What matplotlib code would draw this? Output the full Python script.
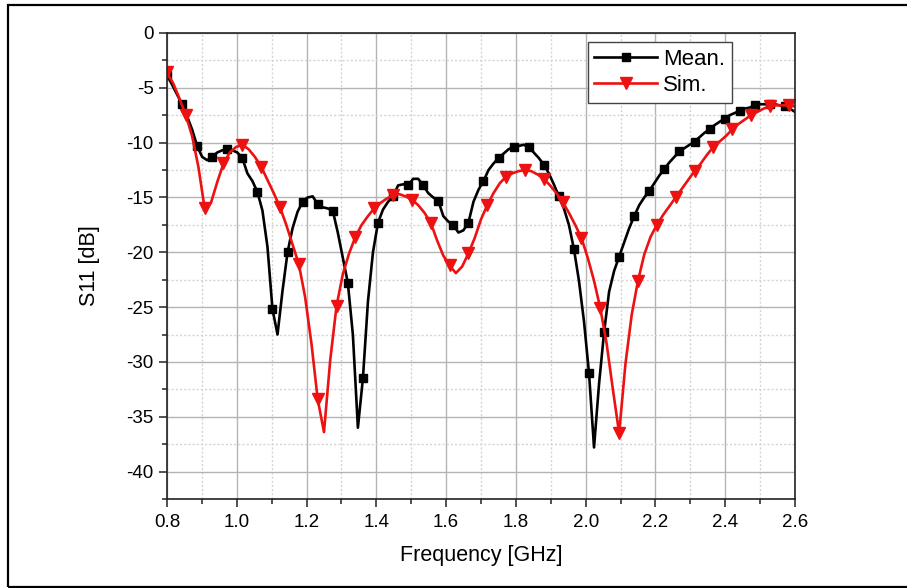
import numpy as np
from matplotlib import pyplot as plt
from matplotlib.patches import Rectangle
from matplotlib.ticker import MultipleLocator

plt.rcParams['font.family'] = ['Liberation Sans', 'DejaVu Sans']
plt.rcParams['axes.unicode_minus'] = False

# measured S11, sampled every 0.0144 GHz from 0.8 to 2.6
freq_meas = np.linspace(0.8, 2.6, 126)
s11_meas = [-3.85, -4.7, -5.6, -6.5, -7.6, -8.8, -10.3, -11.3, -11.6, -11.3,
            -10.9, -10.7, -10.6, -10.7, -10.9, -11.4, -12.8, -13.5, -14.5, -16.2,
            -19.5, -25.2, -27.5, -23.5, -20.0, -17.8, -16.3, -15.4, -15.0, -14.9,
            -15.6, -15.9, -16.0, -16.2, -18.2, -20.5, -22.8, -27.5, -36.0, -31.5,
            -24.5, -20.0, -17.3, -16.1, -15.4, -14.9, -13.9, -13.8, -13.9, -13.3,
            -13.3, -13.9, -14.6, -15.0, -15.3, -16.7, -17.2, -17.5, -18.2, -18.0,
            -17.3, -15.4, -14.3, -13.5, -12.5, -11.9, -11.4, -11.0, -10.6, -10.4,
            -10.3, -10.2, -10.4, -10.9, -11.4, -12.0, -12.8, -13.8, -14.9, -16.0,
            -17.5, -19.7, -22.6, -26.3, -31.0, -37.8, -32.0, -27.3, -23.6, -21.7,
            -20.4, -19.1, -17.8, -16.7, -15.7, -15.0, -14.4, -13.7, -13.0, -12.4,
            -11.8, -11.3, -10.8, -10.5, -10.2, -9.9, -9.5, -9.1, -8.8, -8.4,
            -8.1, -7.8, -7.5, -7.3, -7.1, -6.9, -6.8, -6.6, -6.5, -6.5,
            -6.5, -6.5, -6.6, -6.7, -6.9, -7.2]

# simulated S11, sampled every 0.018 GHz from 0.8 to 2.6
freq_sim = np.linspace(0.8, 2.6, 101)
s11_sim = [-3.6, -4.6, -6.0, -7.5, -9.4, -12.2, -16.0, -15.5, -13.6, -11.9,
           -10.9, -10.4, -10.2, -10.6, -11.3, -12.2, -13.4, -14.6, -15.9, -17.5,
           -19.3, -21.1, -24.1, -28.3, -33.4, -36.4, -29.8, -24.9, -22.0, -20.1,
           -18.6, -17.5, -16.7, -16.0, -15.5, -15.1, -14.8, -14.7, -14.9, -15.2,
           -15.7, -16.4, -17.3, -18.9, -20.3, -21.2, -21.9, -21.3, -20.1, -18.7,
           -17.0, -15.7, -14.6, -13.7, -13.1, -12.8, -12.6, -12.5, -12.6, -12.9,
           -13.3, -13.9, -14.6, -15.4, -16.4, -17.5, -18.7, -20.5, -22.6, -25.1,
           -28.3, -32.5, -36.5, -30.2, -25.7, -22.6, -20.2, -18.6, -17.5, -16.6,
           -15.8, -15.0, -14.2, -13.4, -12.6, -11.9, -11.1, -10.4, -9.9, -9.4,
           -8.8, -8.3, -7.9, -7.5, -7.2, -6.9, -6.7, -6.6, -6.6, -6.6,
           -6.7]

fig = plt.figure(figsize=(9.07, 5.88), dpi=100)
ax = fig.add_axes([0.1841, 0.1514, 0.6924, 0.7925])

ax.plot(freq_meas, s11_meas, color='black', lw=1.9, marker='s', ms=6,
        markevery=3, label='Mean.')
ax.plot(freq_sim, s11_sim, color='#ee1111', lw=1.9, marker='v', ms=8,
        markevery=3, label='Sim.')

ax.set_xlim(0.8, 2.6)
ax.set_ylim(-42.5, 0)
ax.xaxis.set_major_locator(MultipleLocator(0.2))
ax.xaxis.set_minor_locator(MultipleLocator(0.1))
ax.yaxis.set_major_locator(MultipleLocator(5))
ax.yaxis.set_minor_locator(MultipleLocator(2.5))
ax.xaxis.set_major_formatter(plt.FormatStrFormatter('%.1f'))

ax.grid(which='major', color='#b4b4b4', lw=1.0, ls='-')
ax.grid(which='minor', color='#d4d4d4', lw=1.0, ls=(0, (1.5, 1.5)))
ax.set_axisbelow(True)

ax.tick_params(which='both', direction='out', top=False, right=False,
               width=1.1, labelsize=13.5, color='#222222')
ax.tick_params(which='major', length=6)
ax.tick_params(axis='x', which='major', pad=5)
ax.tick_params(which='minor', length=3.5)
for sp in ax.spines.values():
    sp.set_linewidth(1.2)
    sp.set_color('#222222')

ax.set_xlabel('Frequency [GHz]', fontsize=15.5, labelpad=10)
ax.set_ylabel('S11 [dB]', fontsize=15.5, labelpad=19)

leg = ax.legend(loc='upper left', bbox_to_anchor=(0.670, 0.981),
                borderaxespad=0, fontsize=16, handlelength=2.8,
                handletextpad=0.3, labelspacing=0.25, borderpad=0.3,
                fancybox=False, framealpha=1, edgecolor='#444444')
leg.get_frame().set_linewidth(1.0)

# outer border of the figure
fig.patches.append(Rectangle((8 / 907, 1.5 / 588), 1.2, 1 - 6.5 / 588,
                             transform=fig.transFigure, fill=False,
                             edgecolor='black', lw=1.6, clip_on=False))

plt.savefig('out.png', dpi=100)
